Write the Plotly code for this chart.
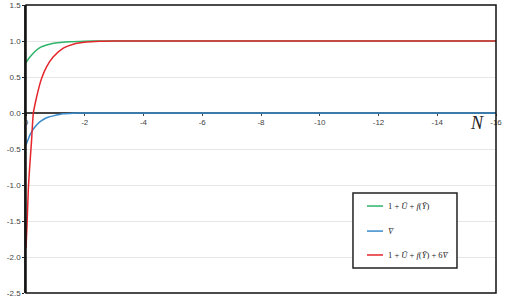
import plotly.graph_objects as go

# N values (x axis) and series
n_green = [0, -0.1, -0.2, -0.36, -0.5, -0.7, -0.9, -1.16, -1.5, -2.0, -2.5, -3, -4, -6, -8, -10, -12, -14, -16]
green = [0.70, 0.76, 0.81, 0.875, 0.915, 0.944, 0.964, 0.978, 0.99, 0.997, 1.0, 1.0, 1.0, 1.0, 1.0, 1.0, 1.0, 1.0, 1.0]

n_blue = [0, -0.07, -0.14, -0.22, -0.31, -0.45, -0.59, -0.75, -0.93, -1.26, -1.6, -2.0, -3, -4, -6, -8, -10, -12, -14, -16]
blue = [-0.44, -0.37, -0.30, -0.24, -0.19, -0.13, -0.09, -0.06, -0.04, -0.012, -0.004, 0.0, 0.0, 0.0, 0.0, 0.0, 0.0, 0.0, 0.0, 0.0]

n_red = [0, -0.04, -0.08, -0.13, -0.19, -0.25, -0.36, -0.45, -0.53, -0.70, -0.93, -1.27, -1.61, -2.06, -2.5, -3, -4, -6, -8, -10, -12, -14, -16]
red = [-1.88, -1.5, -1.05, -0.72, -0.38, 0.0, 0.22, 0.37, 0.48, 0.64, 0.78, 0.9, 0.955, 0.985, 0.996, 1.0, 1.0, 1.0, 1.0, 1.0, 1.0, 1.0, 1.0]

x_ticks = [0, -2, -4, -6, -8, -10, -12, -14, -16]
x_labels = ["0", "-2", "-4", "-6", "-8", "-10", "-12", "-14", "-16"]
y_ticks = [1.5, 1.0, 0.5, 0.0, -0.5, -1.0, -1.5, -2.0, -2.5]
y_labels = ["1.5", "1.0", "0.5", "0.0", "-0.5", "-1.0", "-1.5", "-2.0", "-2.5"]

names = [
    "1 + <i>Ū</i> + <i>f</i>(<i>Ȳ</i>)",
    "<i>V̄</i>",
    "1 + <i>Ū</i> + <i>f</i>(<i>Ȳ</i>) + 6<i>V̄</i>",
]
colors = ["#2fb36a", "#3a8ccc", "#e4262c"]

fig = go.Figure()
for i, (xs, ys) in enumerate([(n_green, green), (n_blue, blue), (n_red, red)]):
    fig.add_trace(go.Scatter(
        x=xs, y=ys, mode="lines", name=names[i], showlegend=False, hoverinfo="skip",
        line=dict(color=colors[i], width=1.5, shape="spline", smoothing=0.6),
    ))

fig.add_annotation(x=-15.35, y=-0.14, xref="x", yref="y", text="<i>N</i>", showarrow=False,
                   font=dict(family="Liberation Serif", size=18, color="#222"))

# outer frame
fig.add_shape(type="rect", xref="paper", yref="paper", x0=0, x1=1, y0=0, y1=1,
              line=dict(color="#111", width=1.5), layer="above")

# custom legend box
fig.add_shape(type="rect", xref="paper", yref="paper", x0=0.6957, x1=0.917, y0=0.0868, y1=0.347,
              line=dict(color="#222", width=1.5), fillcolor="white", layer="above")
leg_y = [0.302, 0.215, 0.132]
for i in range(3):
    fig.add_shape(type="line", xref="paper", yref="paper", x0=0.7255, x1=0.7596,
                  y0=leg_y[i], y1=leg_y[i], line=dict(color=colors[i], width=1.5), layer="above")
    fig.add_annotation(x=0.766, y=leg_y[i], xref="paper", yref="paper", text=names[i],
                       showarrow=False, xanchor="left", yanchor="middle",
                       font=dict(family="Liberation Serif", size=8.5, color="#222"))

fig.update_layout(
    width=506, height=300,
    margin=dict(l=26, r=10, t=5, b=7),
    paper_bgcolor="white", plot_bgcolor="white",
    showlegend=False,
    xaxis=dict(range=[0, -16], tickvals=x_ticks, ticktext=x_labels, automargin=False,
               anchor="free", position=0.625, showline=True, linecolor="#444", linewidth=1.5,
               ticks="outside", ticklen=2, tickcolor="#444", showgrid=False, zeroline=False,
               tickfont=dict(family="Liberation Sans", size=8, color="#444"), layer="below traces"),
    yaxis=dict(range=[-2.5, 1.5], tickvals=y_ticks, ticktext=y_labels, automargin=False,
               showgrid=True, gridcolor="#e6e6e6", gridwidth=1, zeroline=False,
               showline=True, linecolor="#222", linewidth=1.5, ticks="outside", ticklen=2,
               tickcolor="#222",
               tickfont=dict(family="Liberation Sans", size=8, color="#444"), layer="below traces"),
)

fig.write_html("out.html", config={"displayModeBar": False},
               post_script="document.body.style.margin='0';document.body.style.overflow='hidden';")
